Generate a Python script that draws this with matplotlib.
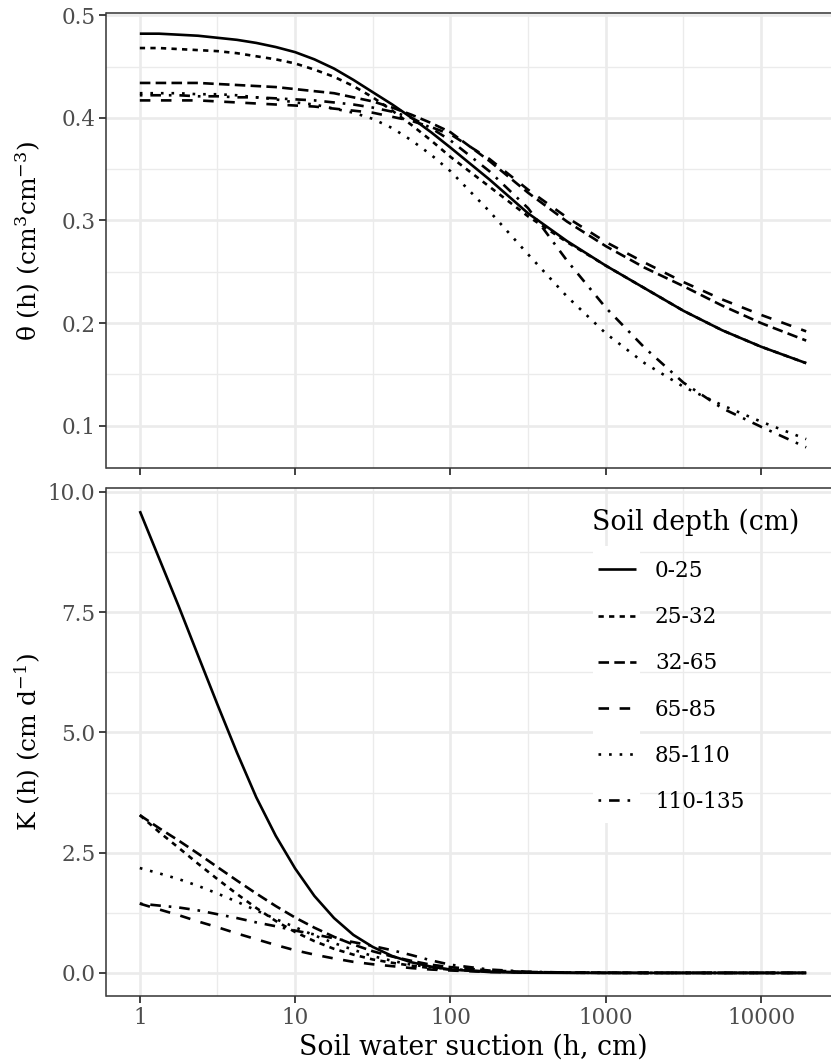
import matplotlib
matplotlib.use("Agg")
import matplotlib.pyplot as plt
from matplotlib.patches import Rectangle
from matplotlib.lines import Line2D
from matplotlib.ticker import FixedLocator, FixedFormatter
import numpy as np

plt.rcParams['font.family'] = ['DejaVu Serif']
plt.rcParams['mathtext.fontset'] = 'dejavuserif'

# ---------------- data ----------------
suction = [1, 1.33, 1.78, 2.37, 3.16, 4.22, 5.62, 7.5, 10, 13.3, 17.8, 23.7, 31.6, 42.2,
           56.2, 75, 100, 178, 316, 562, 1000, 1778, 3162, 5623, 10000, 19500]
depths = ['0-25', '25-32', '32-65', '65-85', '85-110', '110-135']

theta_0_25 = [0.482, 0.482, 0.481, 0.480, 0.478, 0.476, 0.473, 0.469, 0.464, 0.457, 0.448, 0.437,
              0.425, 0.413, 0.400, 0.386, 0.371, 0.340, 0.307, 0.280, 0.256, 0.234, 0.212,
              0.193, 0.177, 0.161]
theta_25_32 = [0.468, 0.468, 0.467, 0.466, 0.465, 0.463, 0.460, 0.457, 0.453, 0.447, 0.440, 0.431,
               0.420, 0.407, 0.393, 0.378, 0.362, 0.333, 0.304, 0.279, 0.256, 0.234, 0.212,
               0.193, 0.177, 0.161]
theta_32_65 = [0.434, 0.434, 0.434, 0.434, 0.433, 0.432, 0.431, 0.430, 0.428, 0.426, 0.424, 0.420,
               0.416, 0.410, 0.403, 0.395, 0.386, 0.358, 0.327, 0.299, 0.275, 0.254, 0.236,
               0.217, 0.200, 0.183]
theta_65_85 = [0.417, 0.417, 0.417, 0.417, 0.416, 0.415, 0.414, 0.413, 0.412, 0.411, 0.409, 0.407,
               0.405, 0.401, 0.397, 0.391, 0.384, 0.360, 0.330, 0.303, 0.279, 0.259, 0.240,
               0.223, 0.208, 0.192]
theta_85_110 = [0.424, 0.424, 0.424, 0.423, 0.423, 0.422, 0.420, 0.418, 0.415, 0.413, 0.409, 0.405,
                0.399, 0.390, 0.378, 0.364, 0.348, 0.309, 0.267, 0.226, 0.190, 0.161, 0.138,
                0.120, 0.104, 0.087]
theta_110_135 = [0.422, 0.422, 0.422, 0.421, 0.421, 0.420, 0.420, 0.419, 0.418, 0.417, 0.415, 0.413,
                 0.410, 0.406, 0.400, 0.390, 0.378, 0.348, 0.312, 0.261, 0.215, 0.176, 0.142,
                 0.117, 0.099, 0.079]

k_0_25 = [9.60, 8.62, 7.62, 6.60, 5.58, 4.58, 3.65, 2.85, 2.17, 1.60, 1.14, 0.79, 0.54, 0.35,
          0.22, 0.13, 0.07, 0.018, 0.005, 0.001, 0, 0, 0, 0, 0, 0]
k_25_32 = [3.28, 2.93, 2.60, 2.27, 1.95, 1.64, 1.35, 1.08, 0.85, 0.66, 0.50, 0.38, 0.28, 0.21,
           0.15, 0.10, 0.07, 0.03, 0.01, 0.004, 0.001, 0, 0, 0, 0, 0]
k_32_65 = [3.28, 3.01, 2.75, 2.48, 2.20, 1.92, 1.65, 1.39, 1.15, 0.94, 0.75, 0.59, 0.45, 0.34,
           0.25, 0.17, 0.12, 0.05, 0.02, 0.008, 0.003, 0.001, 0, 0, 0, 0]
k_65_85 = [1.44, 1.32, 1.20, 1.07, 0.95, 0.82, 0.70, 0.58, 0.47, 0.38, 0.30, 0.23, 0.18, 0.14,
           0.10, 0.07, 0.05, 0.02, 0.01, 0.004, 0.001, 0, 0, 0, 0, 0]
k_85_110 = [2.18, 2.07, 1.95, 1.81, 1.65, 1.48, 1.30, 1.12, 0.95, 0.78, 0.62, 0.48, 0.35, 0.25,
            0.17, 0.12, 0.08, 0.03, 0.01, 0.004, 0.001, 0, 0, 0, 0, 0]
k_110_135 = [1.44, 1.40, 1.36, 1.30, 1.22, 1.14, 1.05, 0.97, 0.88, 0.80, 0.72, 0.64, 0.56, 0.47,
             0.37, 0.26, 0.17, 0.07, 0.025, 0.008, 0.003, 0.001, 0, 0, 0, 0]

x_ticks = [1, 10, 100, 1000, 10000]
x_tick_labels = ['1', '10', '100', '1000', '10000']
theta_ticks = [0.1, 0.2, 0.3, 0.4, 0.5]
theta_tick_labels = ['0.1', '0.2', '0.3', '0.4', '0.5']
k_ticks = [0.0, 2.5, 5.0, 7.5, 10.0]
k_tick_labels = ['0.0', '2.5', '5.0', '7.5', '10.0']

theta_series = [theta_0_25, theta_25_32, theta_32_65, theta_65_85, theta_85_110, theta_110_135]
k_series = [k_0_25, k_25_32, k_32_65, k_65_85, k_85_110, k_110_135]

# ggplot default linetype sequence: solid, 22, 42, 44, 13, 1343
dash_styles = [None, [2, 2], [4, 2], [4, 4], [1, 3], [1, 3, 4, 3]]

# ---------------- layout ----------------
W, H = 831, 1061
fig = plt.figure(figsize=(W / 100, H / 100), dpi=100)


def rect(left, top, right, bottom):
    return [left / W, 1 - bottom / H, (right - left) / W, (bottom - top) / H]


ax1 = fig.add_axes(rect(106.5, 13, 839.5, 468))
ax2 = fig.add_axes(rect(106.5, 488, 839.5, 996))

LW = 1.9
TICK_C = '#333333'
LABEL_C = '#4D4D4D'
GRID_C = '#EBEBEB'
TICK_FS = 15.5
TITLE_FS = 18


def draw_line(ax, x, y, dash, **kw):
    ln, = ax.plot(x, y, color='black', lw=LW, solid_capstyle='butt',
                  dash_capstyle='butt', **kw)
    if dash is not None:
        ln.set_dashes(dash)
    return ln


for ax, series in ((ax1, theta_series), (ax2, k_series)):
    ax.set_xscale('log')
    for vals, dash in zip(series, dash_styles):
        draw_line(ax, suction, vals, dash, zorder=3)
    lo, hi = np.log10(min(suction)), np.log10(max(suction))
    pad = 0.05 * (hi - lo)
    ax.set_xlim(10 ** (lo - pad), 10 ** (hi + pad))
    ax.xaxis.set_major_locator(FixedLocator(x_ticks))
    ax.xaxis.set_major_formatter(FixedFormatter(x_tick_labels))
    ax.xaxis.set_minor_locator(FixedLocator([10 ** (k + 0.5) for k in range(-1, 5)]))
    ax.set_axisbelow(True)
    ax.grid(which='major', color=GRID_C, lw=1.9)
    ax.grid(which='minor', color=GRID_C, lw=0.95)
    ax.tick_params(which='major', length=5, width=1.3, color=TICK_C,
                   labelsize=TICK_FS, labelcolor=LABEL_C, pad=3)
    ax.tick_params(which='minor', length=0)
    for sp in ax.spines.values():
        sp.set_color(TICK_C)
        sp.set_linewidth(1.1)

# theta panel
all_theta = np.concatenate([np.array(s) for s in theta_series])
r = all_theta.max() - all_theta.min()
ax1.set_ylim(all_theta.min() - 0.05 * r, all_theta.max() + 0.05 * r)
ax1.yaxis.set_major_locator(FixedLocator(theta_ticks))
ax1.yaxis.set_major_formatter(FixedFormatter(theta_tick_labels))
ax1.yaxis.set_minor_locator(FixedLocator([0.05, 0.15, 0.25, 0.35, 0.45]))
ax1.tick_params(axis='x', labelbottom=False)
ax1.set_ylabel(r'θ (h) (cm$^{3}$cm$^{-3}$)', fontsize=TITLE_FS)
ax1.yaxis.set_label_coords((43.5 - 106.5) / 733, 0.5)

# K panel
all_k = np.concatenate([np.array(s) for s in k_series])
r = all_k.max() - all_k.min()
ax2.set_ylim(all_k.min() - 0.05 * r, all_k.max() + 0.05 * r)
ax2.yaxis.set_major_locator(FixedLocator(k_ticks))
ax2.yaxis.set_major_formatter(FixedFormatter(k_tick_labels))
ax2.yaxis.set_minor_locator(FixedLocator([1.25, 3.75, 6.25, 8.75]))
ax2.set_ylabel(r'K (h) (cm d$^{-1}$)', fontsize=TITLE_FS)
ax2.yaxis.set_label_coords((43.5 - 106.5) / 733, 0.5)
ax2.set_xlabel('Soil water suction (h, cm)', fontsize=19.2)
ax2.xaxis.set_label_coords(0.5, -(1034 - 996) / 508)

# ---------------- legend (inside lower panel) ----------------
def ax2_pt(px, py):
    return ((px - 106.5) / 733, (996 - py) / 508)


tx, ty = ax2_pt(591.5, 530.5)
ax2.text(tx, ty, 'Soil depth (cm)', transform=ax2.transAxes, fontsize=19.2,
         ha='left', va='baseline', zorder=10)
row0, step = 569.3, 46.2
for i, (name, dash) in enumerate(zip(depths, dash_styles)):
    yc = row0 + step * i
    x0, y0 = ax2_pt(593, yc + step / 2)
    x1, y1 = ax2_pt(640, yc - step / 2)
    ax2.add_patch(Rectangle((x0, y0), x1 - x0, y1 - y0, transform=ax2.transAxes,
                            facecolor='white', edgecolor='none', zorder=9))
    lx0, ly = ax2_pt(598, yc)
    lx1, _ = ax2_pt(636, yc)
    ln = Line2D([lx0, lx1], [ly, ly], transform=ax2.transAxes, color='black', lw=LW,
                solid_capstyle='butt', dash_capstyle='butt', zorder=10)
    if dash is not None:
        ln.set_dashes(dash)
    ax2.add_line(ln)
    tx, ty = ax2_pt(655, yc + 7.6)
    ax2.text(tx, ty, name, transform=ax2.transAxes, fontsize=TICK_FS, ha='left',
             va='baseline', zorder=10)

fig.savefig('out.png', dpi=100)
